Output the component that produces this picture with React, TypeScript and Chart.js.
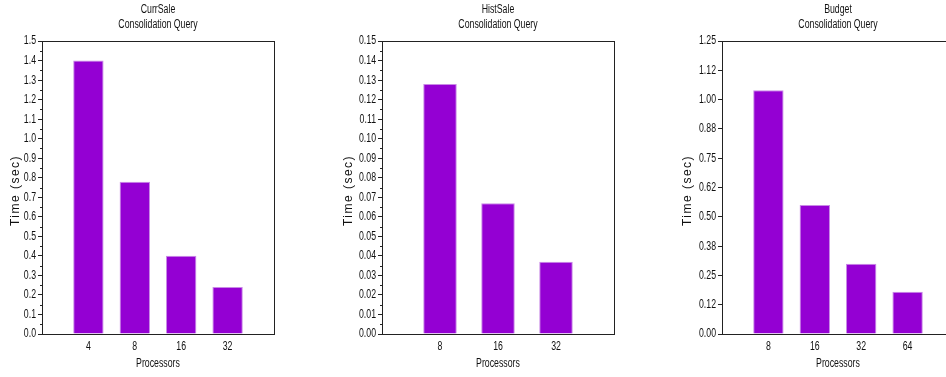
import React, { useEffect, useRef } from "react";
import { Chart, registerables } from "chart.js";

Chart.register(...registerables);

// Query timings per processor count
const currSaleProcessors = ["4", "8", "16", "32"];
const currSaleTimes = [1.4, 0.78, 0.4, 0.24];

const histSaleProcessors = ["8", "16", "32"];
const histSaleTimes = [0.128, 0.067, 0.037];

const budgetProcessors = ["8", "16", "32", "64"];
const budgetTimes = [1.04, 0.55, 0.3, 0.18];
const budgetTickLabels = ["0.00", "0.12", "0.25", "0.38", "0.50", "0.62", "0.75", "0.88", "1.00", "1.12", "1.25"];

const FONT = "'Liberation Sans', Arial, sans-serif";
const CONDENSE = 0.7;
const INK = "#111";
const AXIS = "#222";

type Panel = {
  name: string;
  processors: string[];
  times: number[];
  max: number;
  step: number;
  decimals: number;
  tickLabels?: string[];
  minorTicks: boolean;
  left: number;
  axisWidth: number;
  padRight: number;
  yTitleX: number;
  barPct: number;
};

const panels: Panel[] = [
  { name: "CurrSale", processors: currSaleProcessors, times: currSaleTimes, max: 1.5, step: 0.1, decimals: 1, minorTicks: true, left: 0, axisWidth: 42, padRight: 46, yTitleX: 16, barPct: 0.655 },
  { name: "HistSale", processors: histSaleProcessors, times: histSaleTimes, max: 0.15, step: 0.01, decimals: 2, minorTicks: true, left: 320, axisWidth: 62, padRight: 26, yTitleX: 29, barPct: 0.578 },
  { name: "Budget", processors: budgetProcessors, times: budgetTimes, max: 1.25, step: 0.125, decimals: 2, tickLabels: budgetTickLabels, minorTicks: false, left: 640, axisWidth: 82, padRight: 6, yTitleX: 48, barPct: 0.655 },
];

// Draw chart text in a narrow face by squeezing glyphs horizontally around their anchor
const condensePlugin = {
  id: "condense",
  beforeDraw(chart: any) {
    const ctx = chart.ctx as any;
    if (ctx.__rawFillText) return;
    const raw = ctx.fillText.bind(ctx);
    ctx.__rawFillText = raw;
    ctx.fillText = (text: string, x: number, y: number, maxWidth?: number) => {
      ctx.save();
      ctx.translate(x, y);
      ctx.scale(CONDENSE, 1);
      if (maxWidth !== undefined) raw(text, 0, 0, maxWidth / CONDENSE);
      else raw(text, 0, 0);
      ctx.restore();
    };
  },
};

// Box around the plot area plus small minor ticks on the value axis
const framePlugin = {
  id: "frame",
  afterDraw(chart: any, _args: any, opts: any) {
    const { ctx, chartArea } = chart;
    const { left, right, top, bottom } = chartArea;
    ctx.save();
    ctx.strokeStyle = AXIS;
    ctx.lineWidth = 1;
    ctx.beginPath();
    ctx.moveTo(left, top + 0.5);
    ctx.lineTo(right, top + 0.5);
    ctx.moveTo(right + 0.5, top);
    ctx.lineTo(right + 0.5, bottom);
    ctx.stroke();
    if (opts.minor) {
      const y = chart.scales.y;
      ctx.beginPath();
      for (let v = opts.step / 2; v < opts.max; v += opts.step) {
        const py = Math.round(y.getPixelForValue(v)) + 0.5;
        ctx.moveTo(left - 2, py);
        ctx.lineTo(left, py);
      }
      ctx.stroke();
    }
    ctx.restore();
  },
};

// Rotated, letter-spaced value-axis title
const yTitlePlugin = {
  id: "yTitle",
  afterDraw(chart: any, _args: any, opts: any) {
    const ctx = chart.ctx as any;
    const { chartArea } = chart;
    const draw = ctx.__rawFillText || ctx.fillText.bind(ctx);
    ctx.save();
    ctx.fillStyle = INK;
    ctx.font = "12px 'Liberation Sans', Arial, sans-serif";
    ctx.letterSpacing = "1.5px";
    ctx.textAlign = "center";
    ctx.textBaseline = "middle";
    ctx.translate(opts.x, (chartArea.top + chartArea.bottom) / 2 + 3);
    ctx.rotate(-Math.PI / 2);
    draw(opts.text, 0, 0);
    ctx.restore();
  },
};

function QueryChart({ panel }: { panel: Panel }) {
  const ref = useRef<HTMLCanvasElement | null>(null);

  useEffect(() => {
    if (!ref.current) return;
    const labels = ["", ...panel.processors, ""];
    const data = [null, ...panel.times, null];
    const chart = new Chart(ref.current, {
      type: "bar",
      data: {
        labels,
        datasets: [
          {
            data,
            backgroundColor: "#9400d3",
            borderColor: "#c98ae6",
            borderWidth: 1,
            categoryPercentage: 1,
            barPercentage: panel.barPct,
          },
        ],
      },
      options: {
        responsive: false,
        animation: false,
        events: [],
        layout: { padding: { left: 0, right: panel.padRight, top: 0, bottom: 0 } },
        plugins: {
          legend: { display: false },
          tooltip: { enabled: false },
          title: {
            display: true,
            text: [panel.name, "Consolidation Query"],
            color: INK,
            fullSize: false,
            font: { family: FONT, size: 12.5, weight: "normal", lineHeight: "15px" },
            padding: { top: 2, bottom: 9 },
          },
          frame: { minor: panel.minorTicks, step: panel.step, max: panel.max },
          yTitle: { text: "Time (sec)", x: panel.yTitleX },
        } as any,
        scales: {
          x: {
            type: "category",
            offset: false,
            grid: { display: false },
            border: { display: true, color: AXIS, width: 1 },
            ticks: { color: INK, font: { family: FONT, size: 12.5 }, padding: -3, autoSkip: false, maxRotation: 0 },
            title: {
              display: true,
              text: "Processors",
              color: INK,
              font: { family: FONT, size: 12.5, lineHeight: 1.2 },
              padding: { top: 0, bottom: 6 },
            },
            afterFit: (s: any) => {
              s.height = 43;
            },
          },
          y: {
            type: "linear",
            min: 0,
            max: panel.max,
            grid: { drawOnChartArea: false, drawTicks: true, tickLength: 4, color: AXIS },
            border: { display: true, color: AXIS, width: 1 },
            ticks: {
              stepSize: panel.step,
              autoSkip: false,
              color: INK,
              padding: 2,
              font: { family: FONT, size: 12.5 },
              callback: (v: any, i: number) =>
                panel.tickLabels ? panel.tickLabels[i] : Number(v).toFixed(panel.decimals),
            },
            afterFit: (s: any) => {
              s.width = panel.axisWidth;
            },
          },
        },
      },
      plugins: [condensePlugin, framePlugin, yTitlePlugin],
    });
    return () => chart.destroy();
  }, [panel]);

  return (
    <div style={{ position: "absolute", left: panel.left, top: 0, width: 320, height: 377 }}>
      <canvas ref={ref} width={320} height={377} style={{ display: "block" }} />
    </div>
  );
}

export default function App() {
  return (
    <div
      style={{
        position: "fixed",
        left: 0,
        top: 0,
        width: 946,
        height: 377,
        overflow: "hidden",
        background: "#fff",
      }}
    >
      {panels.map((p) => (
        <QueryChart key={p.name} panel={p} />
      ))}
    </div>
  );
}
